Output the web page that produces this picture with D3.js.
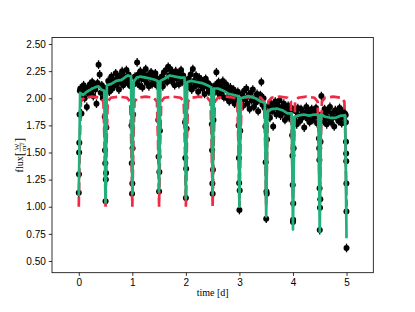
<!DOCTYPE html>
<html lang="en">
<head>
  <meta charset="UTF-8">
  <title>Light curve</title>
  <script src="https://d3js.org/d3.v7.min.js"></script>
  <style>
    body { margin: 0; background: #fff; }
    svg { display: block; font-family: "Liberation Serif", "Times New Roman", serif; }
    .tick text { font-size: 10px; fill: #000; }
    .tick line { stroke: #000; stroke-width: 0.8px; }
  </style>
</head>
<body>
  <div id="chart"></div>
  <script>
    // out-of-transit samples, one row per stretch between transits
    const outTime = [
      0.03, 0.05, 0.07, 0.09, 0.11, 0.13, 0.15, 0.17, 0.19, 0.21, 0.23, 0.25, 0.27, 0.29, 0.31, 0.33, 0.35, 0.37, 0.39, 0.41, 0.43, 0.45, 0.47,
      0.53, 0.55, 0.57, 0.59, 0.61, 0.63, 0.65, 0.67, 0.69, 0.71, 0.73, 0.75, 0.77, 0.79, 0.81, 0.83, 0.85, 0.87, 0.89, 0.91, 0.93, 0.95, 0.97,
      1.03, 1.05, 1.07, 1.09, 1.11, 1.13, 1.15, 1.17, 1.19, 1.21, 1.23, 1.25, 1.27, 1.29, 1.31, 1.33, 1.35, 1.37, 1.39, 1.41, 1.43, 1.45, 1.47,
      1.53, 1.55, 1.57, 1.59, 1.61, 1.63, 1.65, 1.67, 1.69, 1.71, 1.73, 1.75, 1.77, 1.79, 1.81, 1.83, 1.85, 1.87, 1.89, 1.91, 1.93, 1.95, 1.97,
      2.03, 2.05, 2.07, 2.09, 2.11, 2.13, 2.15, 2.17, 2.19, 2.21, 2.23, 2.25, 2.27, 2.29, 2.31, 2.33, 2.35, 2.37, 2.39, 2.41, 2.43, 2.45, 2.47,
      2.53, 2.55, 2.57, 2.59, 2.61, 2.63, 2.65, 2.67, 2.69, 2.71, 2.73, 2.75, 2.77, 2.79, 2.81, 2.83, 2.85, 2.87, 2.89, 2.91, 2.93, 2.95, 2.97,
      3.03, 3.05, 3.07, 3.09, 3.11, 3.13, 3.15, 3.17, 3.19, 3.21, 3.23, 3.25, 3.27, 3.29, 3.31, 3.33, 3.35, 3.37, 3.39, 3.41, 3.43, 3.45, 3.47,
      3.53, 3.55, 3.57, 3.59, 3.61, 3.63, 3.65, 3.67, 3.69, 3.71, 3.73, 3.75, 3.77, 3.79, 3.81, 3.83, 3.85, 3.87, 3.89, 3.91, 3.93, 3.95, 3.97,
      4.03, 4.05, 4.07, 4.09, 4.11, 4.13, 4.15, 4.17, 4.19, 4.21, 4.23, 4.25, 4.27, 4.29, 4.31, 4.33, 4.35, 4.37, 4.39, 4.41, 4.43, 4.45, 4.47,
      4.53, 4.55, 4.57, 4.59, 4.61, 4.63, 4.65, 4.67, 4.69, 4.71, 4.73, 4.75, 4.77, 4.79, 4.81, 4.83, 4.85, 4.87, 4.89, 4.91, 4.93, 4.95, 4.97
    ];
    const outFlux = [
      2.09, 1.86, 2.03, 2.12, 2.00, 2.07, 1.92, 2.10, 2.04, 2.13, 2.06, 2.15, 2.02, 2.11, 2.08, 1.95, 2.14, 2.31, 2.22, 2.05, 2.12, 2.00, 2.09,
      2.10, 2.16, 2.06, 2.14, 2.20, 2.09, 2.17, 2.12, 2.23, 2.13, 2.19, 2.08, 2.21, 2.15, 2.25, 2.12, 2.20, 2.16, 2.26, 2.14, 2.22, 2.18, 2.11,
      2.13, 2.20, 2.16, 2.33, 2.22, 2.12, 2.25, 2.18, 2.10, 2.23, 2.17, 2.27, 2.14, 2.21, 2.11, 2.19, 2.24, 2.13, 2.20, 2.16, 2.23, 2.12, 2.18,
      2.14, 2.20, 2.11, 2.24, 2.17, 2.26, 2.15, 2.29, 2.21, 2.27, 2.16, 2.23, 2.19, 2.12, 2.25, 2.18, 2.22, 2.13, 2.20, 2.26, 2.15, 2.21, 2.17,
      2.10, 2.18, 2.13, 2.22, 2.08, 2.27, 2.16, 2.11, 2.21, 2.14, 2.06, 2.19, 2.12, 2.17, 2.09, 2.15, 2.04, 2.18, 2.11, 2.14, 2.06, 2.12, 2.08,
      2.05, 2.12, 2.24, 2.08, 2.15, 2.03, 2.11, 2.06, 2.16, 2.01, 2.09, 2.13, 2.00, 2.07, 1.97, 2.10, 2.03, 1.99, 2.08, 1.95, 2.04, 2.00, 2.06,
      1.97, 2.04, 1.93, 2.07, 1.99, 2.09, 1.95, 2.03, 1.90, 2.05, 1.98, 2.08, 1.92, 2.01, 1.96, 2.04, 1.88, 1.99, 2.03, 2.15, 1.94, 2.00, 1.91,
      1.86, 1.93, 1.82, 1.95, 1.88, 1.74, 1.91, 1.97, 1.85, 1.93, 1.89, 1.98, 1.84, 1.92, 1.87, 1.95, 1.80, 1.90, 1.85, 1.93, 1.82, 1.88, 1.91,
      1.80, 1.88, 1.76, 1.91, 1.84, 1.79, 1.90, 1.82, 1.87, 1.73, 1.86, 1.92, 1.81, 1.88, 1.78, 1.85, 1.90, 1.80, 1.87, 1.83, 1.91, 1.77, 1.85,
      2.02, 1.85, 1.79, 1.90, 1.83, 1.76, 1.88, 1.81, 1.92, 1.78, 1.86, 1.83, 1.74, 1.89, 1.82, 1.87, 1.79, 1.91, 1.84, 1.77, 1.88, 1.82, 1.86
    ];

    // samples caught inside the transits
    const inTime = [
      0.0, 0.004, 0.007, 0.01, 0.014, 0.02,
      0.485, 0.49, 0.495, 0.5, 0.505, 0.51, 0.515,
      0.985, 0.99, 0.995, 1.0, 1.005, 1.015,
      1.485, 1.49, 1.5, 1.505, 1.515,
      1.985, 1.99, 2.0, 2.005, 2.015,
      2.485, 2.49, 2.495, 2.5, 2.505, 2.515,
      2.985, 2.99, 2.995, 3.0, 3.005, 3.015,
      3.485, 3.49, 3.5, 3.505, 3.51, 3.515,
      3.985, 3.99, 3.995, 4.0, 4.003, 4.005, 4.012,
      4.485, 4.49, 4.493, 4.497, 4.5, 4.505, 4.51, 4.515,
      4.985, 4.988, 4.99, 4.993, 4.995, 4.997, 4.998, 5.0
    ];
    const inFlux = [
      1.13, 1.30, 1.50, 1.59, 1.85, 2.07,
      1.83, 1.52, 1.40, 1.05, 1.25, 1.31, 1.73,
      1.75, 1.40, 1.12, 1.215, 1.54, 1.85,
      1.80, 1.46, 1.14, 1.32, 1.70,
      1.78, 1.45, 1.08, 1.35, 1.72,
      1.76, 1.52, 1.215, 1.12, 1.34, 1.80,
      1.75, 1.45, 1.22, 0.97, 1.15, 1.70,
      1.74, 1.41, 0.89, 1.14, 1.12, 1.62,
      1.66, 1.47, 1.20, 0.86, 0.88, 1.03, 1.54,
      1.63, 1.54, 1.43, 1.17, 0.785, 0.99, 1.07, 1.60,
      1.845, 1.78, 1.60, 1.49, 1.42, 1.215, 0.955, 0.62
    ];
    const fluxErr = 0.04;

    // plain transit model (red dashed)
    const boxTime = [
      0, 0.02, 0.04, 0.1, 0.25, 0.4, 0.46, 0.48,
      0.5, 0.52, 0.54, 0.6, 0.75, 0.9, 0.96, 0.98,
      1.0, 1.02, 1.04, 1.1, 1.25, 1.4, 1.46, 1.48,
      1.5, 1.52, 1.54, 1.6, 1.75, 1.9, 1.96, 1.98,
      2.0, 2.02, 2.04, 2.1, 2.25, 2.4, 2.46, 2.48,
      2.5, 2.52, 2.54, 2.6, 2.75, 2.9, 2.96, 2.98,
      3.0, 3.02, 3.04, 3.1, 3.25, 3.4, 3.46, 3.48,
      3.5, 3.52, 3.54, 3.6, 3.75, 3.9, 3.96, 3.98,
      4.0, 4.02, 4.04, 4.1, 4.25, 4.4, 4.46, 4.48,
      4.5, 4.52, 4.54, 4.6, 4.75, 4.9, 4.96, 4.98,
      5.0
    ];
    const boxFlux = [
      1.0, 1.6, 1.97, 2.005, 2.015, 2.005, 1.97, 1.6,
      1.0, 1.6, 1.97, 2.005, 2.015, 2.005, 1.97, 1.6,
      1.0, 1.6, 1.97, 2.005, 2.015, 2.005, 1.97, 1.6,
      1.0, 1.6, 1.97, 2.005, 2.015, 2.005, 1.97, 1.6,
      1.0, 1.6, 1.97, 2.005, 2.015, 2.005, 1.97, 1.6,
      1.0, 1.6, 1.97, 2.005, 2.015, 2.005, 1.97, 1.6,
      1.0, 1.6, 1.97, 2.005, 2.015, 2.005, 1.97, 1.6,
      1.0, 1.6, 1.97, 2.005, 2.015, 2.005, 1.97, 1.6,
      1.0, 1.6, 1.97, 2.005, 2.015, 2.005, 1.97, 1.6,
      1.0, 1.6, 1.97, 2.005, 2.015, 2.005, 1.97, 1.6,
      1.0
    ];

    // transit model with trend (green)
    const fitTime = [
      0.0, 0.025, 0.08, 0.15, 0.22, 0.3, 0.37, 0.42, 0.475,
      0.5, 0.525, 0.6, 0.7, 0.8, 0.88, 0.92, 0.975,
      1.0, 1.025, 1.08, 1.15, 1.25, 1.35, 1.42, 1.475,
      1.5, 1.525, 1.6, 1.7, 1.8, 1.9, 1.975,
      2.0, 2.025, 2.1, 2.2, 2.3, 2.4, 2.475,
      2.5, 2.525, 2.6, 2.7, 2.8, 2.9, 2.975,
      3.0, 3.025, 3.1, 3.16, 3.3, 3.4, 3.475,
      3.5, 3.525, 3.6, 3.7, 3.8, 3.9, 3.975,
      4.0, 4.025, 4.1, 4.2, 4.3, 4.4, 4.475,
      4.5, 4.525, 4.6, 4.7, 4.8, 4.9, 4.975,
      5.0
    ];
    const fitFlux = [
      1.10, 2.05, 2.03, 2.06, 2.08, 2.10, 2.11, 2.08, 2.07,
      1.04, 2.12, 2.13, 2.16, 2.17, 2.20, 2.21, 2.20,
      1.12, 2.15, 2.19, 2.20, 2.19, 2.18, 2.17, 2.16,
      1.14, 2.16, 2.18, 2.21, 2.20, 2.19, 2.19,
      1.08, 2.15, 2.16, 2.15, 2.14, 2.12, 2.10,
      1.12, 2.09, 2.09, 2.07, 2.04, 2.03, 2.02,
      1.00, 2.00, 2.01, 2.02, 2.00, 1.97, 1.96,
      0.91, 1.875, 1.90, 1.905, 1.89, 1.86, 1.86,
      0.79, 1.83, 1.84, 1.85, 1.84, 1.85, 1.85,
      0.77, 1.85, 1.83, 1.82, 1.82, 1.84, 1.84,
      0.71
    ];

    const xTicks = [0, 1, 2, 3, 4, 5];
    const yTicks = [0.5, 0.75, 1.0, 1.25, 1.5, 1.75, 2.0, 2.25, 2.5];

    const width = 415, height = 312;
    const plotLeft = 52, plotRight = 373.3, plotTop = 37.4, plotBottom = 272.7;

    const svg = d3.select('#chart').append('svg')
      .attr('width', width)
      .attr('height', height);

    const x = d3.scaleLinear().domain([-0.5, 5.5]).range([plotLeft, plotRight]);
    const y = d3.scaleLinear().domain([0.392, 2.561]).range([plotBottom, plotTop]);

    const obs = outTime.map((t, i) => [t, outFlux[i]])
      .concat(inTime.map((t, i) => [t, inFlux[i]]));

    // error bars
    svg.append('g').selectAll('line')
      .data(obs)
      .enter().append('line')
      .attr('x1', d => x(d[0])).attr('x2', d => x(d[0]))
      .attr('y1', d => y(d[1] - fluxErr)).attr('y2', d => y(d[1] + fluxErr))
      .attr('stroke', '#000')
      .attr('stroke-width', 1.3);

    svg.append('g').selectAll('circle')
      .data(obs)
      .enter().append('circle')
      .attr('cx', d => x(d[0]))
      .attr('cy', d => y(d[1]))
      .attr('r', 3)
      .attr('fill', '#000');

    const line = d3.line().x(d => x(d[0])).y(d => y(d[1]));

    svg.append('path')
      .datum(boxTime.map((t, i) => [t, boxFlux[i]]))
      .attr('d', line)
      .attr('fill', 'none')
      .attr('stroke', '#ee2a45')
      .attr('stroke-width', 2.7)
      .attr('stroke-dasharray', '10,4.3');

    svg.append('path')
      .datum(fitTime.map((t, i) => [t, fitFlux[i]]))
      .attr('d', line)
      .attr('fill', 'none')
      .attr('stroke', '#22b07b')
      .attr('stroke-width', 2.7)
      .attr('stroke-linejoin', 'round');

    // axes
    const xAxis = svg.append('g')
      .attr('transform', `translate(0,${plotBottom})`)
      .call(d3.axisBottom(x).tickValues(xTicks).tickFormat(d3.format('d')).tickSize(3.2).tickPadding(3));
    xAxis.select('.domain').remove();

    const yAxis = svg.append('g')
      .attr('transform', `translate(${plotLeft},0)`)
      .call(d3.axisLeft(y).tickValues(yTicks).tickFormat(d3.format('.2f')).tickSize(3.2).tickPadding(3));
    yAxis.select('.domain').remove();

    svg.append('rect')
      .attr('x', plotLeft).attr('y', plotTop)
      .attr('width', plotRight - plotLeft).attr('height', plotBottom - plotTop)
      .attr('fill', 'none')
      .attr('stroke', '#000')
      .attr('stroke-width', 0.8);

    svg.append('text')
      .attr('x', (plotLeft + plotRight) / 2)
      .attr('y', 296)
      .attr('text-anchor', 'middle')
      .attr('font-size', 10)
      .text('time [d]');

    // y label: flux [W/m^2] with a stacked fraction
    const yLab = svg.append('g').attr('transform', `translate(20,${(plotTop + plotBottom) / 2}) rotate(-90)`);
    const inner = yLab.append('g');
    const t1 = inner.append('text').attr('y', 3).attr('font-size', 10).text('flux ');
    let cx = t1.node().getComputedTextLength();
    const b1 = inner.append('text').attr('x', cx).attr('y', 4).attr('font-size', 13).text('[');
    cx += b1.node().getComputedTextLength() + 0.5;
    const num = inner.append('text').attr('y', -1.2).attr('font-size', 7).attr('text-anchor', 'middle').text('W');
    const den = inner.append('text').attr('y', 6.2).attr('font-size', 7).attr('text-anchor', 'middle');
    den.append('tspan').text('m');
    den.append('tspan').attr('font-size', 5).attr('dy', -2.5).text('2');
    const fw = Math.max(num.node().getComputedTextLength(), den.node().getComputedTextLength()) + 1;
    num.attr('x', cx + fw / 2);
    den.attr('x', cx + fw / 2);
    inner.append('line')
      .attr('x1', cx).attr('x2', cx + fw)
      .attr('y1', 0.2).attr('y2', 0.2)
      .attr('stroke', '#000').attr('stroke-width', 0.5);
    cx += fw + 0.5;
    const b2 = inner.append('text').attr('x', cx).attr('y', 4).attr('font-size', 13).text(']');
    cx += b2.node().getComputedTextLength();
    inner.attr('transform', `translate(${-cx / 2},0)`);
  </script>
</body>
</html>
